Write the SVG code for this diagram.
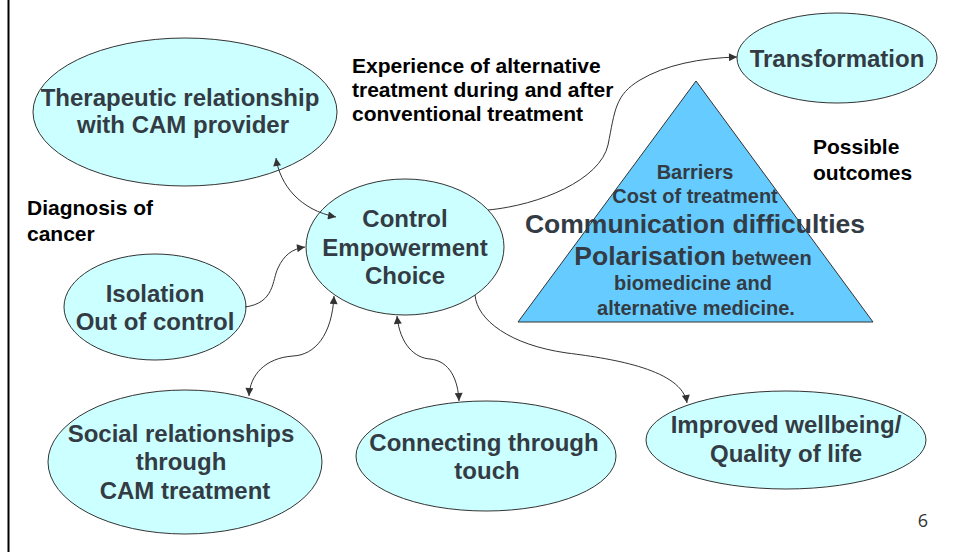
<svg xmlns="http://www.w3.org/2000/svg" width="955" height="552" viewBox="0 0 955 552">
<style>
.node ellipse{fill:#ccffff;stroke:#333;stroke-width:1}
.nt{font-family:"Liberation Sans",Arial,sans-serif;font-weight:bold;font-size:24px;fill:#333b44;text-anchor:middle}
.lbl{font-family:"Liberation Sans",Arial,sans-serif;font-weight:bold;font-size:21px;fill:#000}
.tt{font-family:"Liberation Sans",Arial,sans-serif;font-weight:bold;font-size:20px;fill:#333b44;text-anchor:middle}
.big{font-size:26.5px}
.conn path{fill:none;stroke:#333;stroke-width:1}
</style>
<defs>
<marker id="ah" viewBox="0 0 10 10" refX="10" refY="5" markerWidth="9" markerHeight="8" markerUnits="userSpaceOnUse" orient="auto-start-reverse">
<path d="M0,0 L10,5 L0,10 z" fill="#333"/>
</marker>
</defs>
<rect x="0" y="0" width="955" height="552" fill="#fff"/>
<line x1="8.5" y1="0" x2="8.5" y2="552" stroke="#000" stroke-width="2"/>

<g id="barriers">
<polygon points="696,81 518,322 873,322" fill="#66ccff" stroke="#333" stroke-width="1"/>
<text class="tt" x="695" y="179">Barriers</text>
<text class="tt" x="695" y="203">Cost of treatment</text>
<text class="tt big" x="695" y="233">Communication difficulties</text>
<text class="tt" x="693" y="265"><tspan class="big">Polarisation</tspan> between</text>
<text class="tt" x="693" y="290">biomedicine and</text>
<text class="tt" x="696" y="315">alternative medicine.</text>
</g>

<g id="therapeutic" class="node">
<ellipse cx="185" cy="112" rx="152" ry="74"/>
<text class="nt" x="180" y="106">Therapeutic relationship</text>
<text class="nt" x="183" y="133">with CAM provider</text>
</g>

<g id="control" class="node">
<ellipse cx="405" cy="247" rx="99" ry="68"/>
<text class="nt" x="405" y="227">Control</text>
<text class="nt" x="405" y="256">Empowerment</text>
<text class="nt" x="405" y="284">Choice</text>
</g>

<g id="transformation" class="node">
<ellipse cx="837" cy="58" rx="100" ry="45"/>
<text class="nt" x="837" y="67">Transformation</text>
</g>

<g id="isolation" class="node">
<ellipse cx="155" cy="307" rx="91" ry="53"/>
<text class="nt" x="155" y="302">Isolation</text>
<text class="nt" x="155" y="330">Out of control</text>
</g>

<g id="social" class="node">
<ellipse cx="185" cy="462" rx="137" ry="72"/>
<text class="nt" x="181" y="442">Social relationships</text>
<text class="nt" x="181" y="470">through</text>
<text class="nt" x="185" y="499">CAM treatment</text>
</g>

<g id="touch" class="node">
<ellipse cx="486" cy="456" rx="130" ry="55"/>
<text class="nt" x="484" y="451">Connecting through</text>
<text class="nt" x="487" y="479">touch</text>
</g>

<g id="wellbeing" class="node">
<ellipse cx="786" cy="440" rx="140" ry="49"/>
<text class="nt" x="786" y="433">Improved wellbeing/</text>
<text class="nt" x="786" y="462">Quality of life</text>
</g>

<g id="labels">
<text class="lbl" x="352" y="73">Experience of alternative</text>
<text class="lbl" x="352" y="97">treatment during and after</text>
<text class="lbl" x="352" y="121">conventional treatment</text>
<text class="lbl" x="27" y="215">Diagnosis of</text>
<text class="lbl" x="27" y="241">cancer</text>
<text class="lbl" x="813" y="154">Possible</text>
<text class="lbl" x="813" y="180">outcomes</text>
<text x="923" y="527" font-family="'Open Sans','Liberation Sans',sans-serif" font-size="18" fill="#333" text-anchor="middle">6</text>
</g>

<g id="connectors" class="conn">
<path d="M276,158 C280,185 300,210 336,217" marker-start="url(#ah)" marker-end="url(#ah)"/>
<path d="M245,307 C275,303 272,280 278,268 C284,255 292,249 305,247" marker-end="url(#ah)"/>
<path d="M334,296 C332,335 315,355 293,356 C265,358 250,375 249,396" marker-start="url(#ah)" marker-end="url(#ah)"/>
<path d="M397,316 C400,345 415,358 430,359 C450,361 458,380 459,401" marker-start="url(#ah)" marker-end="url(#ah)"/>
<path d="M475,295 C477,320 510,345 567,353 C615,359 682,370 687,403" marker-end="url(#ah)"/>
<path d="M488,210 C540,205 600,180 608,145 C615,110 615,95 640,80 C665,65 700,58 737,57" marker-end="url(#ah)"/>
</g>
</svg>
